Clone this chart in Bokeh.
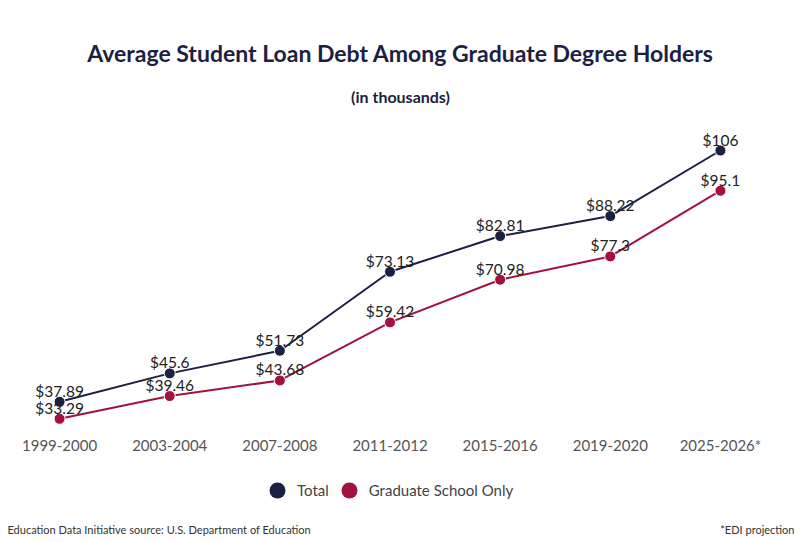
from bokeh.plotting import figure
from bokeh.layouts import column
from bokeh.models import ColumnDataSource, Range1d, Label, Legend, LegendItem, FixedTicker
from bokeh.core.properties import value
from bokeh.embed import file_html
from bokeh.resources import INLINE

periods = ["1999-2000", "2003-2004", "2007-2008", "2011-2012", "2015-2016", "2019-2020", "2025-2026*"]
total = [37.89, 45.6, 51.73, 73.13, 82.81, 88.22, 106]
grad_only = [33.29, 39.46, 43.68, 59.42, 70.98, 77.3, 95.1]
total_labels = ["$37.89", "$45.6", "$51.73", "$73.13", "$82.81", "$88.22", "$106"]
grad_labels = ["$33.29", "$39.46", "$43.68", "$59.42", "$70.98", "$77.3", "$95.1"]

NAVY = "#1c2143"
CRIMSON = "#a3123f"
FONT = "Lato"

xs = list(range(len(periods)))
src_t = ColumnDataSource(dict(x=xs, y=total, lab=total_labels))
src_g = ColumnDataSource(dict(x=xs, y=grad_only, lab=grad_labels))

W = 800
p = figure(width=W, height=465, output_backend="svg", toolbar_location=None,
           x_range=Range1d(-0.5364, 6.727), y_range=Range1d(30.12, 146.65),
           min_border_left=0, min_border_right=0, min_border_top=0, min_border_bottom=35)
p.outline_line_color = None
p.grid.visible = False
p.yaxis.visible = False
p.border_fill_color = "white"

xa = p.xaxis[0]
xa.ticker = FixedTicker(ticks=xs)
xa.major_label_overrides = {i: s for i, s in enumerate(periods)}
xa.axis_line_color = None
xa.major_tick_line_color = None
xa.minor_tick_line_color = None
xa.major_tick_out = 0
xa.major_label_standoff = 5
xa.major_label_text_font = FONT
xa.major_label_text_font_size = "15px"
xa.major_label_text_color = "#555555"

p.line("x", "y", source=src_t, line_color=NAVY, line_width=2)
p.line("x", "y", source=src_g, line_color=CRIMSON, line_width=2)
p.scatter("x", "y", source=src_t, size=11, fill_color=NAVY, line_color="white", line_width=1)
p.scatter("x", "y", source=src_g, size=11, fill_color=CRIMSON, line_color="white", line_width=1)

for src in (src_t, src_g):
    p.text("x", "y", text="lab", source=src, text_align="center", text_baseline="alphabetic",
           y_offset=-11, text_font=value(FONT), text_font_size="15.5px", text_color="#222222")

p.add_layout(Label(x=400, y=378, x_units="screen", y_units="screen",
                   text="Average Student Loan Debt Among Graduate Degree Holders",
                   text_align="center", text_baseline="middle", text_font=FONT, text_font_style="bold",
                   text_font_size="23px", text_color=NAVY))
p.add_layout(Label(x=400, y=334, x_units="screen", y_units="screen", text="(in thousands)",
                   text_align="center", text_baseline="middle", text_font=FONT, text_font_style="bold",
                   text_font_size="16px", text_color=NAVY))

# footer figure: legend and notes
FH = 77
f = figure(width=W, height=FH, output_backend="svg", toolbar_location=None,
           x_range=Range1d(0, W), y_range=Range1d(0, FH),
           min_border_left=0, min_border_right=0, min_border_top=0, min_border_bottom=0)
f.axis.visible = False
f.grid.visible = False
f.outline_line_color = None
lt = f.scatter(x=[-100], y=[-100], size=17, fill_color=NAVY, line_color=None)
lg = f.scatter(x=[-100], y=[-100], size=17, fill_color=CRIMSON, line_color=None)
legend = Legend(items=[LegendItem(label="Total", renderers=[lt]),
                       LegendItem(label="Graduate School Only", renderers=[lg])],
                orientation="horizontal", location=(257, 31),
                glyph_width=40, glyph_height=42, label_standoff=0, spacing=0,
                padding=0, margin=0, border_line_color=None, background_fill_alpha=0,
                label_text_font=FONT, label_text_font_size="15px", label_text_color="#444444")
f.add_layout(legend, "center")
f.add_layout(Label(x=7, y=13, text="Education Data Initiative source: U.S. Department of Education",
                   text_align="left", text_baseline="alphabetic", text_font=FONT,
                   text_font_size="11px", text_color="#333333"))
f.add_layout(Label(x=794, y=13, text="*EDI projection",
                   text_align="right", text_baseline="alphabetic", text_font=FONT,
                   text_font_size="11px", text_color="#333333"))

open("out.html", "w").write(file_html(column(p, f, spacing=0), INLINE))
